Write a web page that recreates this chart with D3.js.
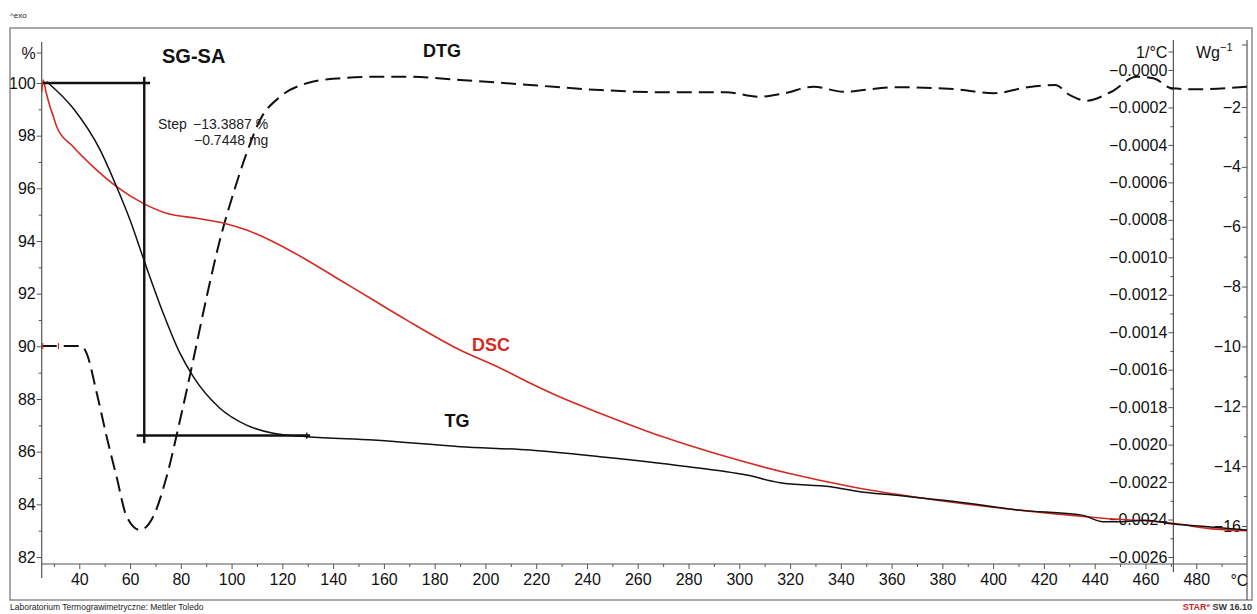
<!DOCTYPE html>
<html>
<head>
<meta charset="utf-8">
<script src="https://cdn.jsdelivr.net/npm/d3@7/dist/d3.min.js"></script>
<style>
  html, body { margin: 0; padding: 0; background: #fff; }
  svg { display: block; }
  text { font-family: "Liberation Sans", Arial, sans-serif; }
</style>
</head>
<body>
<svg id="chart" width="1257" height="614"></svg>
<script>
// ---- Thermal analysis of SG-SA: temperature in °C ----

// TG: residual mass, %
const tgTemp = [27.2, 37.6, 48.2, 54.7, 60.0, 65.9, 73.1, 79.7, 84.9, 95.4, 105.9, 116.4, 129.6, 155.8, 190.0, 217.5, 245.1, 278.2, 302.9, 316.1, 336.0, 347.5, 360.7, 385.5, 410.3, 435.1, 443.3, 450.0, 459.8, 471.1, 484.6, 500.0];
const tgMass = [100.05, 99.04, 97.46, 96.06, 94.80, 93.16, 91.25, 89.73, 88.85, 87.65, 87.01, 86.70, 86.57, 86.44, 86.19, 86.06, 85.81, 85.45, 85.11, 84.82, 84.67, 84.48, 84.35, 84.10, 83.78, 83.59, 83.34, 83.34, 83.40, 83.25, 83.15, 83.02];

// DSC: heat flow, W/g
const dscTemp = [25.2, 25.8, 26.9, 28.5, 29.8, 31.1, 37.6, 45.5, 54.7, 65.2, 74.4, 86.2, 97.4, 105.9, 116.4, 129.6, 142.7, 155.8, 169.0, 190.0, 205.7, 217.5, 229.4, 245.1, 269.9, 294.7, 319.4, 344.2, 377.2, 410.3, 443.3, 471.1, 484.6, 500.0];
const dscHeat = [-1.50, -1.10, -1.50, -1.99, -2.32, -2.66, -3.33, -4.00, -4.66, -5.22, -5.55, -5.72, -5.89, -6.11, -6.50, -7.11, -7.78, -8.45, -9.12, -10.12, -10.72, -11.22, -11.69, -12.23, -13.02, -13.68, -14.24, -14.69, -15.13, -15.47, -15.74, -15.91, -16.08, -16.16];

// DTG: first derivative of mass, 1/°C
const dtgTemp = [25.2, 40.9, 42.9, 46.9, 50.8, 54.7, 58.7, 63.9, 69.1, 74.4, 79.7, 84.9, 90.2, 95.4, 100.7, 105.9, 111.2, 119.1, 129.6, 142.7, 155.8, 169.0, 190.0, 217.5, 245.1, 269.9, 294.7, 307.9, 317.8, 329.3, 340.9, 360.7, 385.5, 400.3, 413.6, 424.4, 430.1, 436.7, 446.6, 456.5, 463.1, 470.5, 479.6, 500.0];
const dtgRate = [-0.001474, -0.001474, -0.001513, -0.001726, -0.001958, -0.002172, -0.002385, -0.002456, -0.002385, -0.002172, -0.001869, -0.001548, -0.001210, -0.000908, -0.000658, -0.000445, -0.000267, -0.000143, -0.000071, -0.000044, -0.000036, -0.000036, -0.000053, -0.000080, -0.000107, -0.000119, -0.000119, -0.000143, -0.000124, -0.000089, -0.000116, -0.000092, -0.000103, -0.000124, -0.000092, -0.000080, -0.000133, -0.000164, -0.000116, -0.000036, -0.000044, -0.000098, -0.000103, -0.000089];

// Step evaluation on the TG curve
const stepLimits = [25.7, 65.6, 130.9];   // start, evaluation line, end (°C)
const stepLevels = [100.0, 86.6113];      // mass before / after (%)
const stepText = ["Step", "\u221213.3887 %", "\u22120.7448 mg"];

// Tick values
const xTicks = [40, 60, 80, 100, 120, 140, 160, 180, 200, 220, 240, 260, 280, 300, 320, 340, 360, 380, 400, 420, 440, 460, 480];
const xMinor = [30, 50, 70, 90, 110, 130, 150, 170, 190, 210, 230, 250, 270, 290, 310, 330, 350, 370, 390, 410, 430, 450, 470, 490];
const tgTicks = [82, 84, 86, 88, 90, 92, 94, 96, 98, 100];
const tgMinor = [83, 85, 87, 89, 91, 93, 95, 97, 99];
const dtgTicks = [0, -0.0002, -0.0004, -0.0006, -0.0008, -0.0010, -0.0012, -0.0014, -0.0016, -0.0018, -0.0020, -0.0022, -0.0024, -0.0026];
const dtgMinor = [-0.0001, -0.0003, -0.0005, -0.0007, -0.0009, -0.0011, -0.0013, -0.0015, -0.0017, -0.0019, -0.0021, -0.0023, -0.0025];
const dscTicks = [-2, -4, -6, -8, -10, -12, -14, -16];
const dscMinor = [-3, -5, -7, -9, -11, -13, -15, -17];

const svg = d3.select("#chart");
const AX = "#555";

// Scales
const x = d3.scaleLinear().domain([25.2, 500]).range([41.7, 1247]);
const yTG = d3.scaleLinear().domain([100, 82]).range([83, 557]);
const yDTG = d3.scaleLinear().domain([0, -0.0026]).range([70, 557]);
const yDSC = d3.scaleLinear().domain([-2, -16]).range([107, 526]);

const xAxisY = 564;
const xLeft = x.range()[0];
const xDtgAxis = x(471);
const xRight = x.range()[1];

// Outer frame
svg.append("rect").attr("x", 10).attr("y", 28).attr("width", 1242).attr("height", 572)
  .attr("fill", "none").attr("stroke", "#8c8c8c").attr("stroke-width", 1.5);

// Header and footer
svg.append("text").attr("x", 10).attr("y", 18).attr("font-size", 8).attr("fill", "#222").text("^exo");
svg.append("text").attr("x", 10).attr("y", 610).attr("font-size", 8.5).attr("fill", "#222")
  .text("Laboratorium Termograwimetryczne: Mettler Toledo");
const star = svg.append("text").attr("x", 1252).attr("y", 610).attr("text-anchor", "end")
  .attr("font-size", 9).attr("font-weight", "bold");
star.append("tspan").attr("fill", "#c62828").text("STAR");
star.append("tspan").attr("fill", "#c62828").attr("font-size", 6).attr("dy", -3).text("e");
star.append("tspan").attr("fill", "#333").attr("dy", 3).text(" SW 16.10");

// Axis helper: draws ticks with labels, then minor ticks without labels
function styleAxis(g) {
  g.select(".domain").remove();
  g.selectAll(".tick line").attr("stroke", AX).attr("stroke-width", 1);
  g.selectAll(".tick text").attr("fill", "#111").attr("font-size", 16)
    .attr("font-family", "'Liberation Sans', Arial, sans-serif");
}

// Bottom temperature axis
svg.append("line").attr("x1", xLeft).attr("x2", xRight).attr("y1", xAxisY).attr("y2", xAxisY)
  .attr("stroke", AX).attr("stroke-width", 1.2);
svg.append("g").attr("transform", `translate(0,${xAxisY})`)
  .call(d3.axisBottom(x).tickValues(xTicks).tickSize(5).tickPadding(5).tickFormat(d3.format("d")))
  .call(styleAxis);
svg.append("g").attr("transform", `translate(0,${xAxisY})`)
  .call(d3.axisBottom(x).tickValues(xMinor).tickSize(3).tickFormat(""))
  .call(styleAxis);
svg.append("text").attr("x", x(497)).attr("y", 586).attr("text-anchor", "middle")
  .attr("font-size", 16).attr("fill", "#111").text("°C");

// Left TG axis (%)
svg.append("line").attr("x1", xLeft).attr("x2", xLeft).attr("y1", 42).attr("y2", 578)
  .attr("stroke", AX).attr("stroke-width", 1.2);
svg.append("g").attr("transform", `translate(${xLeft},0)`)
  .call(d3.axisLeft(yTG).tickValues(tgTicks).tickSize(5).tickPadding(1).tickFormat(d3.format("d")))
  .call(styleAxis);
svg.append("g").attr("transform", `translate(${xLeft},0)`)
  .call(d3.axisLeft(yTG).tickValues(tgMinor).tickSize(3).tickFormat(""))
  .call(styleAxis);
svg.append("line").attr("x1", xLeft - 5).attr("x2", xLeft).attr("y1", 53).attr("y2", 53).attr("stroke", AX);
svg.append("text").attr("x", xLeft - 6).attr("y", 59).attr("text-anchor", "end")
  .attr("font-size", 16).attr("fill", "#111").text("%");

// DTG axis (1/°C)
svg.append("line").attr("x1", xDtgAxis).attr("x2", xDtgAxis).attr("y1", 40).attr("y2", 572)
  .attr("stroke", AX).attr("stroke-width", 1.2);
const dtgFmt = d => d === 0 ? "\u22120.0000" : d3.format(".4f")(d);
svg.append("g").attr("transform", `translate(${xDtgAxis},0)`)
  .call(d3.axisLeft(yDTG).tickValues(dtgTicks).tickSize(5).tickPadding(1).tickFormat(dtgFmt))
  .call(styleAxis);
svg.append("g").attr("transform", `translate(${xDtgAxis},0)`)
  .call(d3.axisLeft(yDTG).tickValues(dtgMinor).tickSize(3).tickFormat(""))
  .call(styleAxis);
svg.append("line").attr("x1", xDtgAxis - 5).attr("x2", xDtgAxis).attr("y1", 52).attr("y2", 52).attr("stroke", AX);
svg.append("text").attr("x", xDtgAxis - 6).attr("y", 58).attr("text-anchor", "end")
  .attr("font-size", 16).attr("fill", "#111").text("1/°C");

// DSC axis (W/g)
svg.append("line").attr("x1", xRight).attr("x2", xRight).attr("y1", 40).attr("y2", 600)
  .attr("stroke", AX).attr("stroke-width", 1.2);
svg.append("g").attr("transform", `translate(${xRight},0)`)
  .call(d3.axisLeft(yDSC).tickValues(dscTicks).tickSize(5).tickPadding(1).tickFormat(d3.format("d")))
  .call(styleAxis);
svg.append("g").attr("transform", `translate(${xRight},0)`)
  .call(d3.axisLeft(yDSC).tickValues(dscMinor).tickSize(3).tickFormat(""))
  .call(styleAxis);
svg.append("line").attr("x1", xRight - 5).attr("x2", xRight).attr("y1", 45).attr("y2", 45).attr("stroke", AX);
const wg = svg.append("text").attr("x", 1196).attr("y", 58).attr("font-size", 16).attr("fill", "#111");
wg.append("tspan").text("Wg");
wg.append("tspan").attr("font-size", 11).attr("dy", -7).text("\u22121");

// Curves
const line = (xs, ys, yScale) => d3.line()
  .x((d, i) => x(xs[i])).y((d, i) => yScale(ys[i]))
  .curve(d3.curveMonotoneX)(xs);

// DTG (dashed)
svg.append("path").attr("d", line(dtgTemp, dtgRate, yDTG))
  .attr("fill", "none").attr("stroke", "#111").attr("stroke-width", 2)
  .attr("stroke-dasharray", "15,7");

// DSC (red)
svg.append("path").attr("d", line(dscTemp, dscHeat, yDSC))
  .attr("fill", "none").attr("stroke", "#d42a22").attr("stroke-width", 1.6);

// TG (solid black)
svg.append("path").attr("d", line(tgTemp, tgMass, yTG))
  .attr("fill", "none").attr("stroke", "#111").attr("stroke-width", 1.5);

// Small markers: DTG start and TG evaluation limit
[25.6, 31.8].forEach(t => {
  svg.append("line").attr("x1", x(t)).attr("x2", x(t))
    .attr("y1", yDTG(dtgRate[0]) - 3).attr("y2", yDTG(dtgRate[0]) + 3)
    .attr("stroke", "#d42a22").attr("stroke-width", 1.2);
});
svg.append("line").attr("x1", x(129.6)).attr("x2", x(129.6))
  .attr("y1", yTG(86.57) - 4).attr("y2", yTG(86.57) + 2)
  .attr("stroke", "#111").attr("stroke-width", 1.5);

// Step evaluation lines
const stepG = svg.append("g").attr("stroke", "#111").attr("stroke-width", 2.4);
stepG.append("line").attr("x1", x(stepLimits[0])).attr("x2", x(67.9))
  .attr("y1", yTG(stepLevels[0])).attr("y2", yTG(stepLevels[0]));
stepG.append("line").attr("x1", x(62.6)).attr("x2", x(stepLimits[2]))
  .attr("y1", yTG(stepLevels[1])).attr("y2", yTG(stepLevels[1]));
stepG.append("line").attr("x1", x(stepLimits[1])).attr("x2", x(stepLimits[1]))
  .attr("y1", yTG(100.24)).attr("y2", yTG(86.32));

svg.append("text").attr("x", 158).attr("y", 129).attr("font-size", 14).attr("fill", "#222").text(stepText[0]);
svg.append("text").attr("x", 193).attr("y", 129).attr("font-size", 14).attr("fill", "#222").text(stepText[1]);
svg.append("text").attr("x", 194).attr("y", 145).attr("font-size", 14).attr("fill", "#222").text(stepText[2]);

// Labels
svg.append("text").attr("x", 162).attr("y", 63).attr("font-size", 20).attr("font-weight", "bold")
  .attr("fill", "#111").text("SG-SA");
svg.append("text").attr("x", 442).attr("y", 57).attr("text-anchor", "middle").attr("font-size", 18)
  .attr("font-weight", "bold").attr("fill", "#111").text("DTG");
svg.append("text").attr("x", 491).attr("y", 351).attr("text-anchor", "middle").attr("font-size", 18)
  .attr("font-weight", "bold").attr("fill", "#d42a22").text("DSC");
svg.append("text").attr("x", 457).attr("y", 427).attr("text-anchor", "middle").attr("font-size", 18)
  .attr("font-weight", "bold").attr("fill", "#111").text("TG");
</script>
</body>
</html>
